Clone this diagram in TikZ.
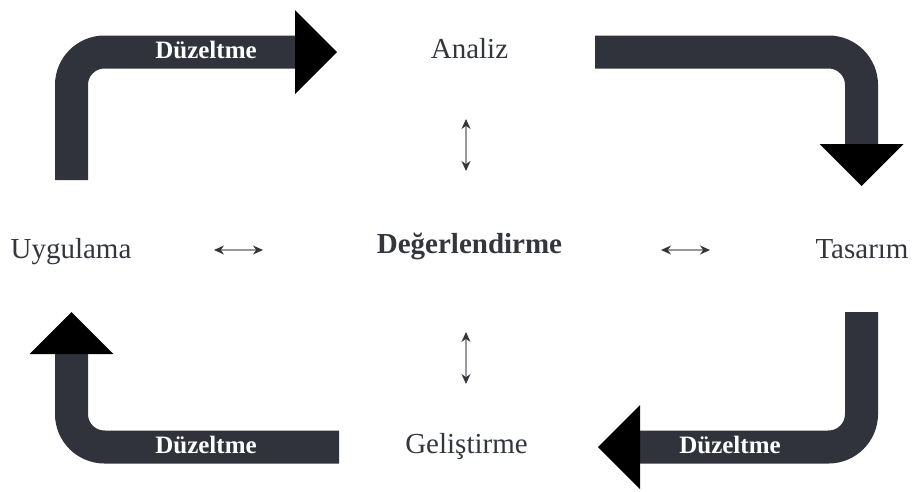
\documentclass[tikz,border=0pt]{standalone}
\usepackage{fontspec}
\setmainfont{Liberation Serif}
\usepackage{tikz}
\usetikzlibrary{arrows.meta,positioning,calc}
\definecolor{slatebar}{RGB}{48,51,59}
\definecolor{labelgray}{RGB}{52,54,62}
\definecolor{shaftgray}{RGB}{150,152,158}

\begin{document}
\begin{tikzpicture}[x=1pt, y=-1pt,
    phase/.style={font=\fontsize{29}{32}\selectfont, text=labelgray, inner sep=0pt, anchor=base},
    hub/.style={font=\fontsize{29}{32}\selectfont\bfseries, text=labelgray, inner sep=0pt, anchor=base},
    fix/.style={font=\fontsize{25}{28}\selectfont\bfseries, text=white, inner sep=0pt, anchor=base},
    bentarrow/.style={draw=slatebar, line width=33pt, rounded corners=33pt,
                 -{Triangle[length=42pt, width=84pt, line width=0pt, color=black]}},
    dbl/.style={{Stealth[length=10pt, width=9pt, color=labelgray]}-{Stealth[length=10pt, width=9pt, color=labelgray]},
                line width=1.1pt, shaftgray}
]
\useasboundingbox (0,0) rectangle (914,491);

% phases
\node[phase] (analiz) at (469.5,58) {Analiz};
\node[phase] (tasarim) at (862,258) {Tasarım};
\node[phase] (gelistirme) at (466.5,453) {Geliştirme};
\node[phase] (uygulama) at (71,258) {Uygulama};
\node[hub] (deger) at (469.5,253) {Değerlendirme};

% bent arrows
\coordinate (tl0) at (71.5,180);  \coordinate (tl1) at (71.5,52);  \coordinate (tl2) at (337,52);
\coordinate (tr0) at (595,52);    \coordinate (tr1) at (861.5,52); \coordinate (tr2) at (861.5,186);
\coordinate (br0) at (861.5,312); \coordinate (br1) at (861.5,447); \coordinate (br2) at (598,447);
\coordinate (bl0) at (339,447);   \coordinate (bl1) at (71.5,447); \coordinate (bl2) at (71.5,312);

\draw[bentarrow] (tl0) -- (tl1) -- (tl2);
\draw[bentarrow] (tr0) -- (tr1) -- (tr2);
\draw[bentarrow] (br0) -- (br1) -- (br2);
\draw[bentarrow] (bl0) -- (bl1) -- (bl2);

\node[fix] (fix1) at (206,58) {Düzeltme};
\node[fix] (fix2) at (730,453) {Düzeltme};
\node[fix] (fix3) at (206,453) {Düzeltme};

% small double arrows
\coordinate (u1) at (466,119); \coordinate (u2) at (466,171);
\coordinate (d1) at (466,332); \coordinate (d2) at (466,384);
\coordinate (l1) at (214,250); \coordinate (l2) at (263,250);
\coordinate (r1) at (661,250); \coordinate (r2) at (710,250);
\draw[dbl] (u1) -- (u2);
\draw[dbl] (d1) -- (d2);
\draw[dbl] (l1) -- (l2);
\draw[dbl] (r1) -- (r2);
\end{tikzpicture}
\end{document}
